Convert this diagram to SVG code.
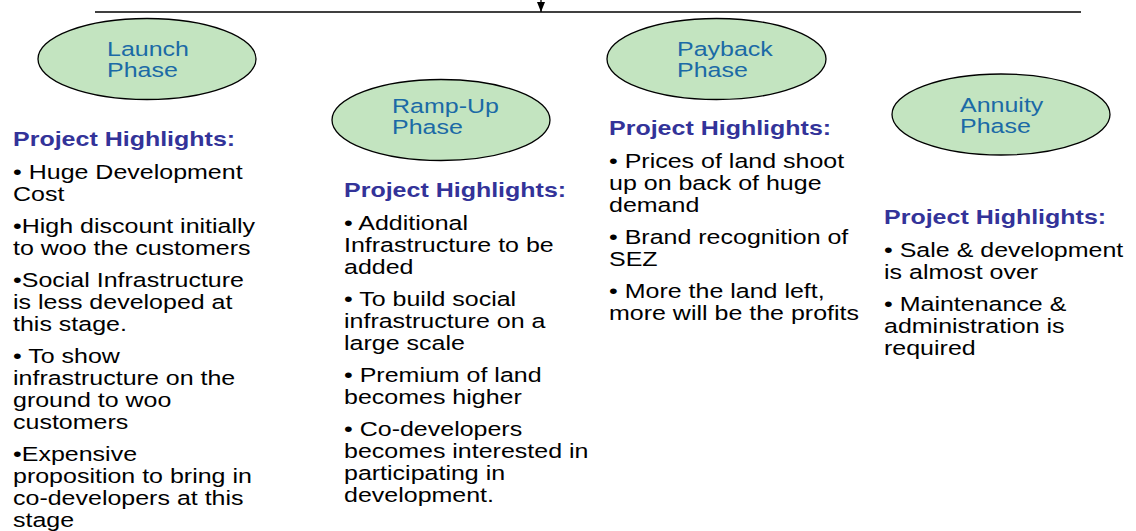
<svg xmlns="http://www.w3.org/2000/svg" width="1136" height="531" viewBox="0 0 1136 531">
  <defs>
    <marker id="arrowhead" viewBox="0 0 10 8" refX="10" refY="4" markerWidth="10" markerHeight="8" markerUnits="userSpaceOnUse" orient="auto">
      <path d="M0,0 L10,4 L0,8 Z" fill="#000"/>
    </marker>
  </defs>
  <style>
    .phase { fill: #c3e4c0; stroke: #000; stroke-width: 1.3; }
    .label { font-family: "Liberation Sans", Arial, sans-serif; font-size: 19.5px; fill: #1b6aa6; }
    .head { font-family: "Liberation Sans", Arial, sans-serif; font-size: 19.5px; font-weight: bold; fill: #333399; }
    .body { font-family: "Liberation Sans", Arial, sans-serif; font-size: 19.5px; fill: #000; }
    .rule { stroke: #000; stroke-width: 1.3; fill: none; }
  </style>

  <!-- timeline rule with incoming arrow -->
  <g id="connectors">
    <line class="rule" x1="95" y1="12" x2="1081" y2="12"/>
    <line class="rule" x1="541" y1="0" x2="541" y2="12" marker-end="url(#arrowhead)"/>
  </g>

  <!-- phase bubbles -->
  <g id="phase-launch">
    <ellipse class="phase" cx="147" cy="59" rx="109" ry="40.5"/>
    <g transform="translate(107,0) scale(1.282,1)">
      <text class="label" x="0" y="56">Launch</text>
      <text class="label" x="0" y="77">Phase</text>
    </g>
  </g>
  <g id="phase-rampup">
    <ellipse class="phase" cx="441" cy="120" rx="109" ry="40.5"/>
    <g transform="translate(392,0) scale(1.282,1)">
      <text class="label" x="0" y="113">Ramp-Up</text>
      <text class="label" x="0" y="134">Phase</text>
    </g>
  </g>
  <g id="phase-payback">
    <ellipse class="phase" cx="716.5" cy="59" rx="109.5" ry="40.5"/>
    <g transform="translate(677,0) scale(1.282,1)">
      <text class="label" x="0" y="56">Payback</text>
      <text class="label" x="0" y="77">Phase</text>
    </g>
  </g>
  <g id="phase-annuity">
    <ellipse class="phase" cx="1001" cy="114.5" rx="109" ry="40.5"/>
    <g transform="translate(960,0) scale(1.282,1)">
      <text class="label" x="0" y="112">Annuity</text>
      <text class="label" x="0" y="133">Phase</text>
    </g>
  </g>

  <!-- highlight lists under each phase -->
  <g id="highlights-launch" transform="translate(13,0) scale(1.282,1)">
    <text class="head" x="0" y="146">Project Highlights:</text>
    <text class="body" x="0" y="179">• Huge Development</text>
    <text class="body" x="0" y="201">Cost</text>
    <text class="body" x="0" y="233">•High discount initially</text>
    <text class="body" x="0" y="255">to woo the customers</text>
    <text class="body" x="0" y="287">•Social Infrastructure</text>
    <text class="body" x="0" y="309">is less developed at</text>
    <text class="body" x="0" y="331">this stage.</text>
    <text class="body" x="0" y="363">• To show</text>
    <text class="body" x="0" y="385">infrastructure on the</text>
    <text class="body" x="0" y="407">ground to woo</text>
    <text class="body" x="0" y="429">customers</text>
    <text class="body" x="0" y="461">•Expensive</text>
    <text class="body" x="0" y="483">proposition to bring in</text>
    <text class="body" x="0" y="505">co-developers at this</text>
    <text class="body" x="0" y="527">stage</text>
  </g>

  <g id="highlights-rampup" transform="translate(344,0) scale(1.282,1)">
    <text class="head" x="0" y="197">Project Highlights:</text>
    <text class="body" x="0" y="230">• Additional</text>
    <text class="body" x="0" y="252">Infrastructure to be</text>
    <text class="body" x="0" y="274">added</text>
    <text class="body" x="0" y="306">• To build social</text>
    <text class="body" x="0" y="328">infrastructure on a</text>
    <text class="body" x="0" y="350">large scale</text>
    <text class="body" x="0" y="382">• Premium of land</text>
    <text class="body" x="0" y="404">becomes higher</text>
    <text class="body" x="0" y="436">• Co-developers</text>
    <text class="body" x="0" y="458">becomes interested in</text>
    <text class="body" x="0" y="480">participating in</text>
    <text class="body" x="0" y="502">development.</text>
  </g>

  <g id="highlights-payback" transform="translate(609,0) scale(1.282,1)">
    <text class="head" x="0" y="135">Project Highlights:</text>
    <text class="body" x="0" y="168">• Prices of land shoot</text>
    <text class="body" x="0" y="190">up on back of huge</text>
    <text class="body" x="0" y="212">demand</text>
    <text class="body" x="0" y="244">• Brand recognition of</text>
    <text class="body" x="0" y="266">SEZ</text>
    <text class="body" x="0" y="298">• More the land left,</text>
    <text class="body" x="0" y="320">more will be the profits</text>
  </g>

  <g id="highlights-annuity" transform="translate(884,0) scale(1.282,1)">
    <text class="head" x="0" y="224">Project Highlights:</text>
    <text class="body" x="0" y="257">• Sale &amp; development</text>
    <text class="body" x="0" y="279">is almost over</text>
    <text class="body" x="0" y="311">• Maintenance &amp;</text>
    <text class="body" x="0" y="333">administration is</text>
    <text class="body" x="0" y="355">required</text>
  </g>
</svg>
